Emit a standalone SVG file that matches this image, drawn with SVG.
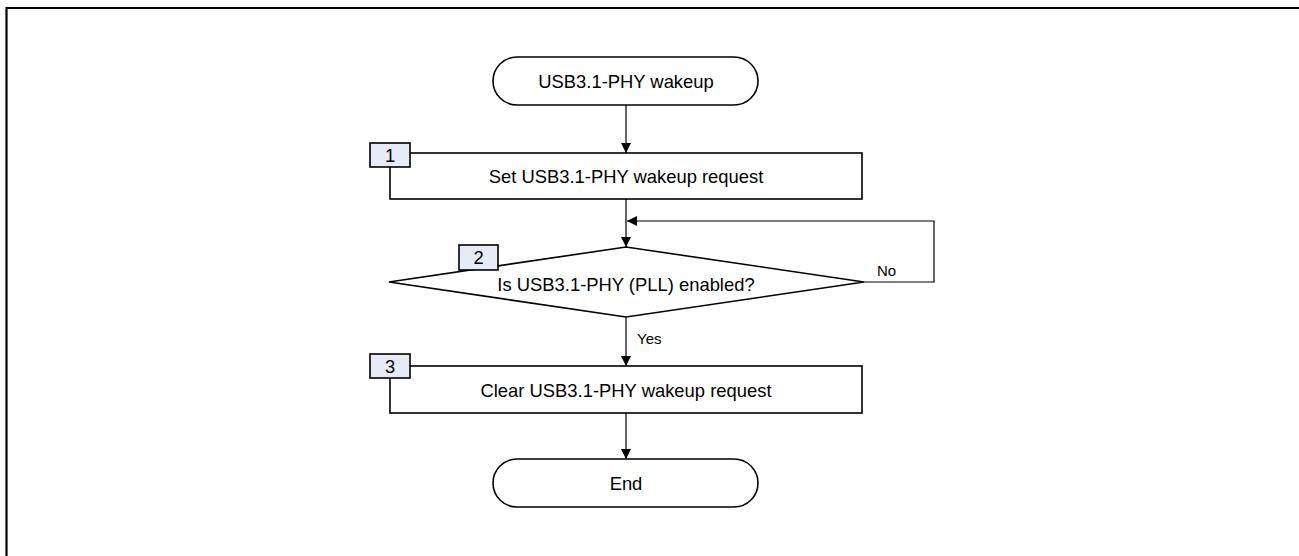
<svg xmlns="http://www.w3.org/2000/svg" width="1299" height="556" viewBox="0 0 1299 556">
<defs>
<style>
.shape{fill:#fff;stroke:#000;stroke-width:1.6}
.badge{fill:#E6EBF5;stroke:#000;stroke-width:1.6}
.conn{fill:none;stroke:#000;stroke-width:1.2}
.t{font-family:"Liberation Sans",Arial,sans-serif;font-size:18.4px;fill:#000;text-anchor:middle}
.lbl{font-family:"Liberation Sans",Arial,sans-serif;font-size:15px;fill:#000}
</style>
<marker id="ah" markerWidth="10" markerHeight="10" viewBox="0 0 10 10" refX="10" refY="5" orient="auto" markerUnits="userSpaceOnUse">
<path d="M0,0 L10,5 L0,10 Z" fill="#000"/>
</marker>
</defs>
<rect width="1299" height="556" fill="#fff"/>
<path d="M6.5,560 V8 H1305" fill="none" stroke="#000" stroke-width="2.2"/>
<g id="connectors">
<line class="conn" x1="626" y1="105" x2="626" y2="153" marker-end="url(#ah)"/>
<line class="conn" x1="626" y1="199" x2="626" y2="247" marker-end="url(#ah)"/>
<polyline class="conn" points="864,282 934,282 934,221 627,221" marker-end="url(#ah)"/>
<line class="conn" x1="626" y1="317" x2="626" y2="366" marker-end="url(#ah)"/>
<line class="conn" x1="626" y1="413" x2="626" y2="459" marker-end="url(#ah)"/>
<text class="lbl" x="877" y="276">No</text>
<text class="lbl" x="637" y="344">Yes</text>
</g>
<g id="start">
<rect class="shape" x="493" y="57" width="265" height="48" rx="24" ry="24"/>
<text class="t" x="626" y="87.5">USB3.1-PHY wakeup</text>
</g>
<g id="step1">
<rect class="shape" x="390" y="153" width="472" height="46"/>
<rect class="badge" x="370" y="143" width="40" height="24"/>
<text class="t" x="390" y="161.5">1</text>
<text class="t" x="626" y="182.5">Set USB3.1-PHY wakeup request</text>
</g>
<g id="step2">
<polygon class="shape" points="389,282 626,247 864,282 626,317"/>
<rect class="badge" x="459" y="245" width="39" height="25"/>
<text class="t" x="478.5" y="264">2</text>
<text class="t" x="626" y="291">Is USB3.1-PHY (PLL) enabled?</text>
</g>
<g id="step3">
<rect class="shape" x="390" y="366" width="472" height="47"/>
<rect class="badge" x="370" y="354" width="40" height="24"/>
<text class="t" x="390" y="372.5">3</text>
<text class="t" x="626" y="396.5">Clear USB3.1-PHY wakeup request</text>
</g>
<g id="end">
<rect class="shape" x="493" y="459" width="265" height="48" rx="24" ry="24"/>
<text class="t" x="626" y="489.5">End</text>
</g>
</svg>
